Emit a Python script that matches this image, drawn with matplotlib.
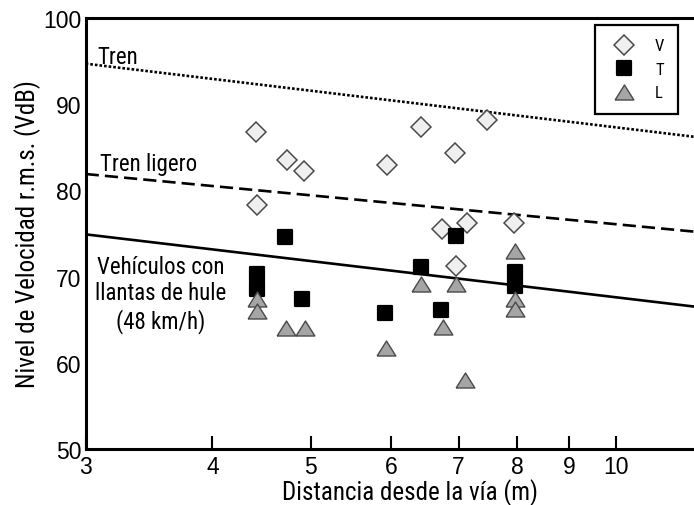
import matplotlib
matplotlib.use("Agg")
import matplotlib.pyplot as plt
from matplotlib import font_manager
from matplotlib.markers import MarkerStyle
from matplotlib.ticker import NullLocator

# Measured levels by vehicle type: V, T, L
v_dist = [4.42, 4.43, 4.74, 4.93, 5.95, 6.42, 6.94, 7.47, 6.74, 7.14, 7.94, 6.96]
v_level = [86.8, 78.3, 83.5, 82.3, 82.9, 87.4, 84.3, 88.2, 75.5, 76.2, 76.2, 71.2]

t_dist = [4.43, 4.43, 4.90, 4.72, 5.92, 6.42, 6.72, 7.95, 7.95, 6.96]
t_level = [70.3, 68.6, 67.4, 74.6, 65.8, 71.1, 66.1, 70.5, 68.9, 74.7]

l_dist = [4.43, 4.43, 4.73, 4.94, 5.93, 6.42, 6.96, 6.75, 7.11, 7.95, 7.95, 7.95]
l_level = [67.4, 66.0, 64.0, 64.0, 61.7, 69.1, 69.1, 64.1, 58.0, 73.0, 67.4, 66.2]

# Reference curves (straight on a log distance axis)
curve_dist = [3, 12]
tren_level = [94.7, 86.2]
ligero_level = [81.9, 75.2]
hule_level = [74.9, 66.5]

x_ticks = [3, 4, 5, 6, 7, 8, 9, 10]
y_ticks = [50, 60, 70, 80, 90, 100]


def first_installed(candidates):
    names = {f.name for f in font_manager.fontManager.ttflist}
    for name in candidates:
        if name in names:
            return name
    return "DejaVu Sans"


narrow_face = first_installed(["Liberation Sans Narrow", "Roboto Condensed",
                               "DejaVu Sans Condensed", "Open Sans Condensed",
                               "Liberation Sans"])
NARROW = [narrow_face, "DejaVu Sans"]
REGULAR = ["Liberation Sans", "DejaVu Sans"]
# plain Liberation Sans is wider, so shrink a bit if no condensed face exists
wide = narrow_face == "Liberation Sans"
label_size = 15 if wide else 18
note_size = 14 if wide else 16.5

fig = plt.figure(figsize=(6.94, 5.06), dpi=100)
ax = fig.add_axes([85.7 / 694, 56 / 506, 1 - 85.7 / 694, 431 / 506])

ax.plot(curve_dist, tren_level, color="black", lw=1.9, linestyle=(0, (1, 0.75)))
ax.plot(curve_dist, ligero_level, color="black", lw=1.9, linestyle=(0, (5, 2.3)))
ax.plot(curve_dist, hule_level, color="black", lw=1.9, linestyle="-")

diamond = MarkerStyle("D")
square = MarkerStyle("s", joinstyle="round")
triangle = [(-1, -0.8), (1, -0.8), (0, 0.8), (-1, -0.8)]

ax.plot(v_dist, v_level, linestyle="none", marker=diamond, ms=10,
        mfc="#efefef", mec="#4a4a4a", mew=1.1, label="V")
ax.plot(t_dist, t_level, linestyle="none", marker=square, ms=10.5,
        mfc="black", mec="black", mew=1.6, label="T")
ax.plot(l_dist, l_level, linestyle="none", marker=triangle, ms=13.5,
        mfc="#a5a5a5", mec="#4a4a4a", mew=1.0, label="L")

ax.set_xscale("log")
ax.set_xlim(3, 11.95)
ax.set_ylim(50, 100)
ax.set_xticks(x_ticks, [str(t) for t in x_ticks])
ax.xaxis.set_minor_locator(NullLocator())
ax.set_yticks(y_ticks)

for side in ("left", "top", "bottom"):
    ax.spines[side].set_linewidth(2.2)
ax.spines["right"].set_visible(False)

ax.tick_params(axis="x", direction="in", length=9.5, width=1.5, pad=4.5,
               labelsize=16.5)
ax.tick_params(axis="y", length=0, pad=3, labelsize=16.5)
for lab in ax.get_xticklabels() + ax.get_yticklabels():
    lab.set_family(REGULAR)

ax.set_xlabel("Distancia desde la vía (m)", family=NARROW, fontsize=label_size)
ax.set_ylabel("Nivel de Velocidad r.m.s. (VdB)", family=NARROW,
              fontsize=label_size)
ax.xaxis.set_label_coords(0.533, -0.068)
ax.yaxis.set_label_coords(-0.073, 0.5)

ax.text(3.08, 94.8, "Tren", family=NARROW, fontsize=note_size, va="baseline")
ax.text(3.10, 82.4, "Tren ligero", family=NARROW, fontsize=note_size,
        va="baseline")
ax.text(3.56, 68.0, "Vehículos con\nllantas de hule\n(48 km/h)",
        family=NARROW, fontsize=note_size, ha="center", va="center",
        multialignment="center", linespacing=1.2)

leg = ax.legend(loc="upper left", bbox_to_anchor=(595 / 694, 1 - 26 / 506),
                bbox_transform=fig.transFigure, fancybox=False, framealpha=1,
                edgecolor="black", borderpad=0.8, labelspacing=0.51,
                handlelength=1.9, handletextpad=0.9, borderaxespad=0,
                prop={"family": NARROW, "size": 12})
leg.get_frame().set_linewidth(1.6)

fig.savefig("out.png", dpi=100)
